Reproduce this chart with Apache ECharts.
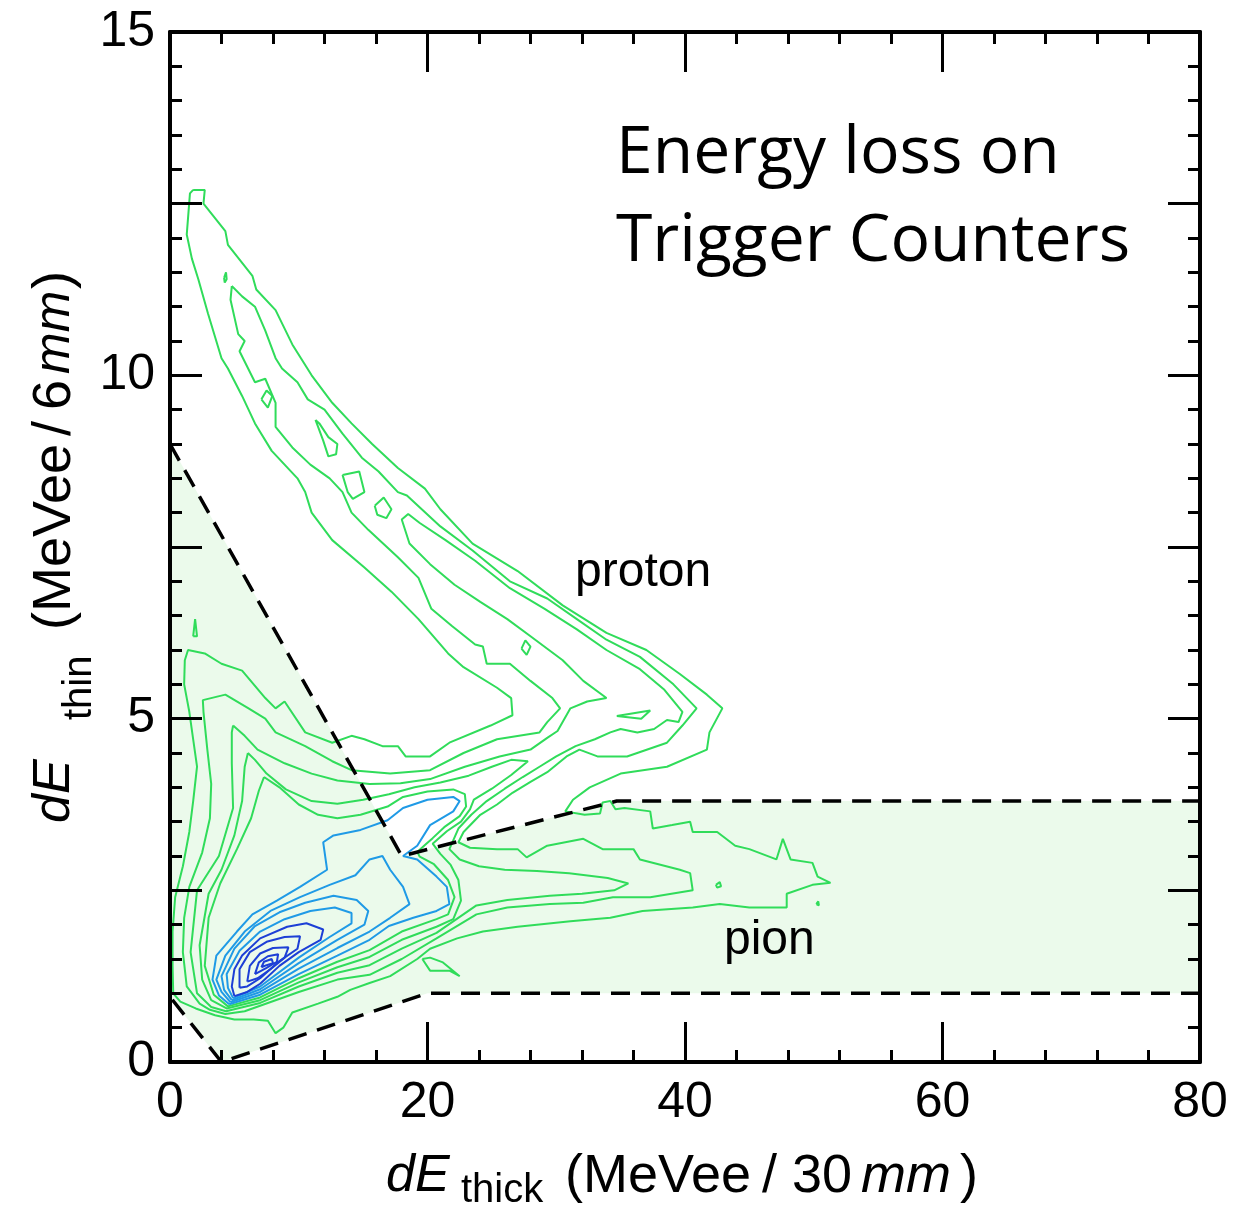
<!DOCTYPE html>
<html>
<head>
<meta charset="utf-8">
<script src="https://cdn.jsdelivr.net/npm/echarts/dist/echarts.min.js"></script>
<style>
html,body{margin:0;padding:0;background:#ffffff;}
#chart{width:1247px;height:1210px;}
</style>
</head>
<body>
<div id="chart"></div>
<script>
// ---------------- data ----------------
const xTickLabels = [0, 20, 40, 60, 80];
const yTickLabels = [0, 5, 10, 15];

// selection region (shaded) and its dashed outline
const regionPolygon = [[0,9],[18,3],[34.7,3.8],[80,3.8],[80,1],[20,1],[4,0],[0,0.95]];
const dashUpper = [[0,9],[18,3],[34.7,3.8],[80,3.8]];
const dashLower = [[80,1],[20,1],[4,0],[0,0.95]];

// green contour levels
const g1 = [[1.8,12.7],[2.7,12.7],[2.6,12.5],[4.3,12.1],[4.5,11.9],[6.4,11.45],[6.7,11.25],[8.2,10.95],[9.5,10.45],[11.0,10.0],[12.6,9.6],[14.1,9.3],[15.7,9.0],[17.7,8.65],[19.8,8.35],[21.0,8.05],[23.5,7.55],[27.0,7.15],[30.5,6.65],[33.9,6.25],[37.0,6.0],[39.6,5.65],[41.7,5.35],[42.9,5.15],
  [41.9,4.8],[41.7,4.55],[38.6,4.3],[35.0,4.2],[32.6,4.0],[31.3,3.82],[30.7,3.65],
  [32.2,3.6],[33.4,3.62],[33.6,3.78],[34.2,3.8],[34.6,3.68],[35.3,3.7],[37.3,3.65],[37.5,3.4],[39.0,3.45],[40.4,3.5],[40.6,3.35],[42.5,3.35],[43.9,3.15],[45.0,3.1],[47.1,2.95],[47.6,3.25],[48.2,2.95],[49.9,2.9],[50.3,2.7],[51.3,2.61],
  [49.9,2.58],[47.9,2.45],[47.9,2.25],[45.0,2.25],[42.7,2.3],[40.6,2.25],[36.7,2.2],[34.2,2.1],[31.1,2.05],[27.0,1.97],[24.3,1.9],[22.3,1.8],[20.2,1.65],[19.2,1.5],[17.1,1.25],[15.5,1.15],[14.0,1.05],[13.0,0.95],[11.5,0.85],[9.5,0.72],[8.8,0.5],[8.2,0.42],[7.6,0.6],[6.5,0.62],[5.0,0.62],[3.5,0.68],[2.0,0.78],[0.8,0.88],[0.25,1.0],
  [0.2,1.4],[0.2,1.9],[0.4,2.4],[1.0,2.85],[1.5,3.35],[1.8,3.8],[2.1,4.3],[1.8,4.7],[1.5,5.1],[1.1,5.5],[1.15,5.85],[1.4,6.0],
  [2.7,5.95],[4.0,5.8],[5.6,5.7],[7.4,5.3],[8.2,5.15],[8.9,5.25],[10.5,4.8],[12.6,4.65],[14.1,4.75],[15.1,4.7],[16.5,4.6],[17.7,4.6],[18.3,4.45],[20.2,4.45],[21.7,4.65],[24.9,4.9],[26.6,5.05],
  [26.5,5.3],[25.4,5.45],[22.8,5.75],[21.6,5.95],[19.3,6.45],[17.2,6.85],[15.1,7.2],[12.6,7.6],[11.0,8.0],[10.5,8.3],[9.9,8.5],[8.9,8.7],[7.9,8.9],[6.6,9.3],[5.6,9.7],[4.5,10.1],[4.0,10.25],[2.95,10.9],[2.2,11.4],[1.7,11.7],[1.3,12.05],[1.55,12.65],[1.8,12.7]];

const g2 = [[4.8,11.3],[5.6,11.15],[6.6,11.0],[7.4,10.65],[8.2,10.25],[8.7,10.1],[9.9,9.9],[10.7,9.65],[12.0,9.5],[13.4,9.15],[14.9,8.8],[16.2,8.6],[17.7,8.3],[18.4,8.25],[21.0,7.8],[23.5,7.45],[26.4,7.0],[29.3,6.75],[31.6,6.45],[33.9,6.15],[36.5,5.9],[39.1,5.5],[40.9,5.15],
  [39.8,4.9],[38.6,4.65],[35.5,4.45],[33.2,4.45],[31.8,4.55],[30.8,4.45],[29.3,4.22],[28.0,4.08],[26.6,3.92],[25.4,3.75],[24.1,3.6],[22.8,3.35],[22.4,3.2],
  [23.3,3.12],[25.4,3.1],[27.0,3.1],[27.7,2.98],[29.3,3.15],[32.1,3.25],[33.6,3.1],[36.0,3.1],[36.5,2.95],[39.6,2.8],[40.4,2.75],[40.6,2.5],[37.3,2.4],[34.4,2.4],[32.1,2.32],[29.5,2.3],[26.2,2.25],[23.8,2.15],[20.7,1.8],[18,1.5],[15.5,1.27],[13,1.2],[10,1.02],[7,0.82],[5.8,0.74],[4.3,0.70],[3.1,0.76],[2.3,0.85],[1.3,1.1],[1.0,1.6],[1.1,2.1],[1.5,2.55],[2.5,3.05],[3.1,3.55],[3.2,4.05],[2.9,4.55],[2.6,5.1],[2.55,5.27],
  [4.3,5.35],[6.1,5.15],[7.4,5.0],[8.2,4.8],[10.5,4.6],[12.6,4.38],[14.1,4.25],[17.1,4.2],[20.2,4.25],[22.8,4.5],[25.4,4.7],[28.7,4.8],[29.3,4.95],[30.3,5.15],
  [29.7,5.3],[28.0,5.55],[26.4,5.8],[24.6,5.8],[24.3,6.05],[23.7,6.08],[21.9,6.35],[20.3,6.6],[19.3,7.05],[17.7,7.35],[15.4,7.75],[14.1,8.0],[13.4,8.3],[12.4,8.5],[10.9,8.7],[9.5,8.95],[8.2,9.25],[8.2,9.6],[7.4,9.95],[6.6,9.9],[5.4,10.35],[5.8,10.5],[5.3,10.6],[4.7,11.1],[4.8,11.3]];

const g3 = [[4.9,4.9],[4.8,4.8],[4.8,4.35],[4.9,3.7],[3.8,3.0],[2.1,2.5],[1.6,1.6],[2.1,1.0],[3.2,0.8],[4.35,0.74],[7,0.86],[10,1.1],[13,1.3],[15.5,1.41],[18,1.65],[20.7,1.88],[23.8,2.28],[26.2,2.36],[29.5,2.42],[32.0,2.45],[34.5,2.5],[35.6,2.6],[34.0,2.68],[31.0,2.75],[28.5,2.78],[26.0,2.8],[24.0,2.85],[22.5,2.95],[21.7,3.1],
  [22.4,3.4],[23.4,3.6],[24.6,3.8],[26.0,3.98],[27.4,4.15],[28.7,4.3],[30.0,4.45],[31.5,4.6],[33.0,4.7],[34.2,4.8],[35.0,4.85],[36.3,4.8],[37.6,4.85],[38.6,4.98],[39.5,4.95],[39.8,5.1],
  [38.4,5.42],[36.5,5.72],[33.9,6.0],[31.6,6.3],[29.1,6.6],[26.4,6.9],[23.7,7.3],[21.4,7.6],[19.4,7.85],[18.5,7.98],[18.0,7.9],[18.6,7.55],[20.2,7.25],[22.1,6.95],[24.1,6.7],[26.2,6.45],[28.0,6.2],[30.5,5.85],[32.1,5.55],[33.9,5.3],
  [32.4,5.25],[31.1,5.15],[30.1,4.82],[29.3,4.72],[28.0,4.55],[25.6,4.45],[22.9,4.3],[20.2,4.12],[17.9,4.06],[15.5,4.05],[13,4.1],[11,4.2],[8.9,4.35],[6.8,4.55],[5.8,4.75],[4.9,4.9]];

const g4 = [[6.05,4.5],[5.8,4.3],[5.6,3.8],[5.0,3.3],[4.0,2.8],[3.0,2.45],[2.3,1.7],[2.5,1.2],[3.2,0.9],[4.4,0.78],[7,0.9],[10,1.16],[13,1.38],[15.5,1.53],[18,1.78],[20.7,1.97],[22.0,2.08],[22.6,2.35],[22.4,2.65],[21.8,2.87],[21.0,3.03],[20.4,3.18],[21.5,3.36],[22.6,3.5],[23.3,3.68],[23.6,3.82],[25,3.98],[26.5,4.18],[27.8,4.38],[26.5,4.4],[25,4.3],[23.2,4.17],[21,4.07],[19,4.0],[17,3.9],[15,3.82],[13,3.76],[11,3.8],[9,3.97],[7.5,4.2],[6.6,4.4],[6.05,4.5]];

const g5 = [[7.3,4.15],[6.9,3.95],[6.3,3.55],[5.2,3.1],[3.9,2.6],[3.0,2.1],[2.7,1.4],[3.4,0.98],[4.5,0.81],[7,0.94],[10,1.22],[13,1.46],[15.5,1.63],[18,1.9],[20.7,2.08],[21.6,2.15],[22.1,2.4],[21.6,2.65],[20.5,2.88],[19.4,2.99],[19.2,3.06],[19.8,3.16],[20.4,3.26],[21.3,3.42],[22.5,3.58],[23.0,3.72],[22.9,3.9],[22,3.97],[20,3.94],[18.1,3.86],[16.9,3.72],[14.8,3.6],[13,3.55],[11.5,3.6],[10,3.75],[8.5,4.0],[7.3,4.15]];

// small green islands
const islands = [
  [[4.2,11.42],[4.35,11.5],[4.4,11.4],[4.25,11.35],[4.2,11.42]],
  [[7.1,9.65],[7.5,9.78],[7.95,9.7],[7.6,9.53],[7.1,9.65]],
  [[11.3,9.35],[11.9,9.05],[12.3,8.82],[12.9,8.85],[13.0,9.0],[12.3,9.1],[11.6,9.3],[11.3,9.35]],
  [[13.4,8.55],[14.7,8.6],[15.1,8.3],[14.2,8.2],[13.8,8.3],[13.4,8.55]],
  [[15.9,8.1],[16.6,8.22],[17.2,8.05],[16.8,7.92],[16.1,7.97],[15.9,8.1]],
  [[27.3,6.02],[27.6,6.14],[28.0,6.05],[27.7,5.93],[27.3,6.02]],
  [[34.7,5.04],[36.0,5.08],[37.3,5.12],[36.6,5.0],[34.7,5.04]],
  [[1.8,6.2],[1.95,6.45],[2.1,6.2],[1.8,6.2]],
  [[19.6,1.5],[20.2,1.33],[21.7,1.33],[22.5,1.25],[21.2,1.45],[20.2,1.52],[19.6,1.5]],
  [[42.4,2.58],[42.7,2.62],[42.8,2.56],[42.5,2.54],[42.4,2.58]],
  [[50.2,2.3],[50.35,2.34],[50.4,2.28],[50.2,2.3]]
];

// light blue levels
const b1 = [[4.6,0.84],[3.8,0.97],[3.3,1.2],[3.6,1.55],[5.2,1.9],[6.4,2.15],[8.3,2.35],[10.1,2.55],[12.2,2.8],[11.9,3.2],[12.7,3.3],[14.8,3.38],[16.9,3.52],[18.1,3.7],[20.0,3.82],[22.0,3.86],[22.5,3.8],[22.0,3.65],[20.2,3.45],[19.2,3.15],[18.1,3.0],[19.2,2.95],[20.7,2.7],[21.5,2.55],[21.7,2.3],[20.7,2.2],[18.9,2.1],[17,1.98],[15.5,1.78],[13,1.55],[10,1.28],[7,0.98],[4.6,0.84]];
const b2 = [[4.7,0.87],[4.0,1.02],[3.6,1.2],[4.3,1.55],[5.8,1.9],[7.8,2.2],[10.1,2.4],[12.4,2.58],[14.4,2.72],[15.5,2.95],[16.5,3.0],[17.1,2.8],[18.1,2.55],[18.6,2.3],[17.1,2.1],[15.5,1.9],[13,1.66],[10,1.36],[7,1.02],[4.7,0.87]];
const b3 = [[4.8,0.9],[4.2,1.05],[4.0,1.25],[5.0,1.65],[6.6,1.98],[8.5,2.18],[10.5,2.32],[12.7,2.42],[14.5,2.36],[15.4,2.2],[15.1,2.0],[13,1.78],[10,1.44],[7,1.06],[4.8,0.9]];
const b4 = [[4.9,0.93],[4.5,1.08],[4.4,1.28],[5.4,1.62],[7.0,1.9],[8.9,2.08],[10.9,2.2],[12.8,2.25],[14.1,2.17],[14.1,2.02],[12.4,1.82],[10,1.52],[7,1.1],[4.9,0.93]];

// dark blue levels
const d1 = [[5.0,0.96],[4.8,1.1],[5.0,1.35],[5.6,1.55],[7.0,1.8],[9.1,1.97],[10.6,2.02],[11.9,1.93],[11.7,1.78],[10,1.6],[8.5,1.4],[7,1.14],[6,1.02],[5.0,0.96]];
const d2 = [[5.4,1.08],[5.4,1.35],[6.2,1.6],[7.5,1.75],[8.9,1.82],[10.1,1.83],[9.9,1.65],[8.5,1.47],[7,1.22],[6,1.1],[5.4,1.08]];
const d3 = [[6.0,1.17],[6.2,1.4],[7.0,1.58],[8.0,1.66],[9.2,1.67],[8.9,1.52],[7.8,1.35],[6.8,1.22],[6.0,1.17]];
const d4 = [[6.6,1.28],[6.9,1.45],[7.6,1.54],[8.4,1.57],[8.3,1.46],[7.5,1.37],[6.6,1.28]];
const d5 = [[7.1,1.38],[7.3,1.46],[7.9,1.5],[8.0,1.44],[7.5,1.41],[7.1,1.38]];

const greenLines = [g1, g2, g3, g4, g5].concat(islands);
const lightBlueLines = [b1, b2, b3, b4];
const darkBlueLines = [d1, d2, d3, d4, d5];

// ---------------- chart ----------------
const GREEN = '#30dc5a', LBLUE = '#1f9ae6', DBLUE = '#1c3fd6';
const chart = echarts.init(document.getElementById('chart'), null, {renderer: 'canvas'});

function contour(data, color, z) {
  return {type: 'line', data: data, symbol: 'none', showSymbol: false, smooth: false,
    lineStyle: {color: color, width: 2}, z: z, silent: true, clip: true};
}

const series = [];
series.push({
  type: 'custom', data: [[0, 0]], z: 1, silent: true, clip: true,
  renderItem: function (params, api) {
    return {type: 'polygon', shape: {points: regionPolygon.map(p => api.coord(p))},
      style: {fill: '#ebfaeb'}};
  }
});
greenLines.forEach(d => series.push(contour(d, GREEN, 3)));
lightBlueLines.forEach(d => series.push(contour(d, LBLUE, 4)));
darkBlueLines.forEach(d => series.push(contour(d, DBLUE, 5)));
[dashUpper, dashLower].forEach(d => series.push({
  type: 'line', data: d, symbol: 'none', z: 6, silent: true, clip: true,
  lineStyle: {color: '#000', width: 3.5, type: [19, 11]}
}));

const axisCommon = {
  type: 'value', z: 10,
  axisLine: {show: true, onZero: false, lineStyle: {color: '#000', width: 4}},
  splitLine: {show: false},
  minorTick: {show: true, splitNumber: 5, length: 12, lineStyle: {color: '#000', width: 3}},
  minorSplitLine: {show: false}
};

function txt(x, y, s, font, rot) {
  const el = {type: 'text', x: x, y: y, z: 20,
    style: {text: s, font: font, fill: '#000', textAlign: 'left', textVerticalAlign: 'middle', verticalAlign: 'middle'}};
  if (rot) el.rotation = rot;
  return el;
}
const R = Math.PI / 2;
const F = '"Liberation Sans"';

const option = {
  animation: false,
  backgroundColor: '#ffffff',
  grid: {left: 170, right: 47, top: 32, bottom: 148, containLabel: false},
  xAxis: [
    Object.assign({}, axisCommon, {
      position: 'bottom', min: 0, max: 80, interval: 20,
      axisTick: {show: true, inside: true, length: 40, lineStyle: {color: '#000', width: 3}},
      axisLabel: {show: true, margin: 16, color: '#000', fontSize: 50, fontFamily: 'Liberation Sans',
        formatter: v => xTickLabels.includes(v) ? String(v) : ''}
    }),
    Object.assign({}, axisCommon, {
      position: 'top', min: 0, max: 80, interval: 20,
      axisTick: {show: true, inside: true, length: 40, lineStyle: {color: '#000', width: 3}},
      axisLabel: {show: false}
    })
  ],
  yAxis: [
    Object.assign({}, axisCommon, {
      position: 'left', min: 0, max: 15, interval: 2.5,
      axisTick: {show: true, inside: true, length: 32, lineStyle: {color: '#000', width: 3}},
      axisLabel: {show: true, margin: 15, color: '#000', fontSize: 50, fontFamily: 'Liberation Sans',
        formatter: v => yTickLabels.includes(v) ? String(v) : ''}
    }),
    Object.assign({}, axisCommon, {
      position: 'right', min: 0, max: 15, interval: 2.5,
      axisTick: {show: true, inside: true, length: 32, lineStyle: {color: '#000', width: 3}},
      axisLabel: {show: false}
    })
  ],
  series: series,
  graphic: [
    // annotation
    txt(616, 154, 'Energy loss on', '66px "Open Sans"'),
    txt(616, 242, 'Trigger Counters', '66px "Open Sans"'),
    txt(575, 573, 'proton', '48px ' + F),
    txt(724, 941, 'pion', '48px ' + F),
    // x axis title
    txt(386, 1177, 'dE', 'italic 52px ' + F),
    txt(461, 1191, 'thick', '40px ' + F),
    txt(565, 1177, '(MeVee', '54px ' + F),
    txt(762, 1177, '/', '54px ' + F),
    txt(792, 1177, '30', '54px ' + F),
    txt(861, 1177, 'mm', 'italic 54px ' + F),
    txt(960, 1177, ')', '54px ' + F),
    // y axis title (rotated)
    txt(55, 823, 'dE', 'italic 52px ' + F, R),
    txt(80, 720, 'thin', '40px ' + F, R),
    txt(55, 630, '(MeVee', '54px ' + F, R),
    txt(55, 436, '/', '54px ' + F, R),
    txt(55, 410, '6', '54px ' + F, R),
    txt(55, 374, 'mm', 'italic 50px ' + F, R),
    txt(55, 289, ')', '54px ' + F, R)
  ]
};
chart.setOption(option);
</script>
</body>
</html>
